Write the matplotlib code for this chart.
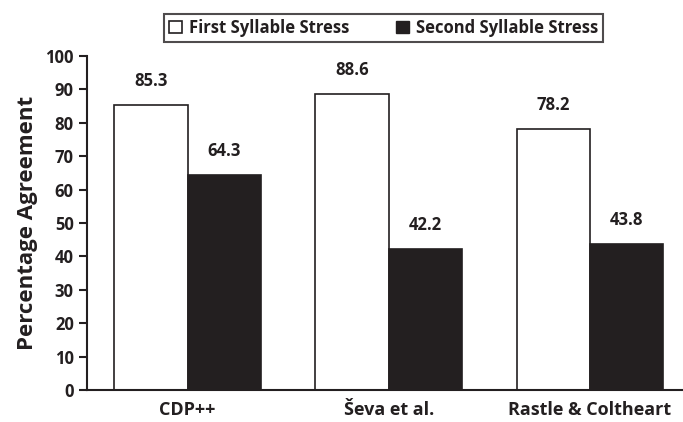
import numpy as np
import matplotlib.pyplot as plt
from matplotlib.patches import Patch

plt.rcParams['font.family'] = ['Open Sans', 'DejaVu Sans']
plt.rcParams['font.weight'] = 'bold'

models = ['CDP++', 'Ševa et al.', 'Rastle & Coltheart']
first_stress = [85.3, 88.6, 78.2]
second_stress = [64.3, 42.2, 43.8]
series_names = ['First Syllable Stress', 'Second Syllable Stress']

dark = '#231f20'
fig = plt.figure(figsize=(6.83, 4.22), dpi=100)
ax = fig.add_axes([0.1274, 0.0758, 0.872, 0.7915])

x = np.arange(len(models))
w = 0.365
b1 = ax.bar(x - w / 2, first_stress, w, color='white', edgecolor=dark, linewidth=1.2)
b2 = ax.bar(x + w / 2, second_stress, w, color=dark, edgecolor=dark, linewidth=1.2)

for bars, vals in [(b1, first_stress), (b2, second_stress)]:
    for r, v in zip(bars, vals):
        ax.text(r.get_x() + r.get_width() / 2, v + 4.5, f'{v:.1f}',
                ha='center', va='bottom', fontsize=12, fontweight='bold', color=dark)

ax.set_xlim(-0.5, 2.46)
ax.set_ylim(0, 100)
ax.set_yticks(range(0, 101, 10))
ax.set_xticks(x)
ax.set_xticklabels(models, fontsize=13, fontweight='bold', color=dark)
ax.tick_params(axis='x', length=0, pad=8)
ax.tick_params(axis='y', length=6, width=1.5, labelsize=12, colors=dark, direction='out')
for s in ['top', 'right']:
    ax.spines[s].set_visible(False)
for s in ['left', 'bottom']:
    ax.spines[s].set_linewidth(1.5)
    ax.spines[s].set_color(dark)
ax.set_ylabel('Percentage Agreement', fontsize=16, fontweight='bold', color=dark, labelpad=5)

handles = [Patch(facecolor='white', edgecolor=dark, linewidth=1.2),
           Patch(facecolor=dark, edgecolor=dark)]
leg = fig.legend(handles, series_names, loc='center', bbox_to_anchor=(0.561, 0.934),
                 ncol=2, fontsize=12, frameon=True, fancybox=False, handlelength=0.8,
                 handleheight=0.8, handletextpad=0.4, columnspacing=2.8,
                 borderpad=0.3, edgecolor=dark)
leg.get_frame().set_linewidth(1.5)
for t in leg.get_texts():
    t.set_color(dark)

fig.savefig('out.png', dpi=100)
